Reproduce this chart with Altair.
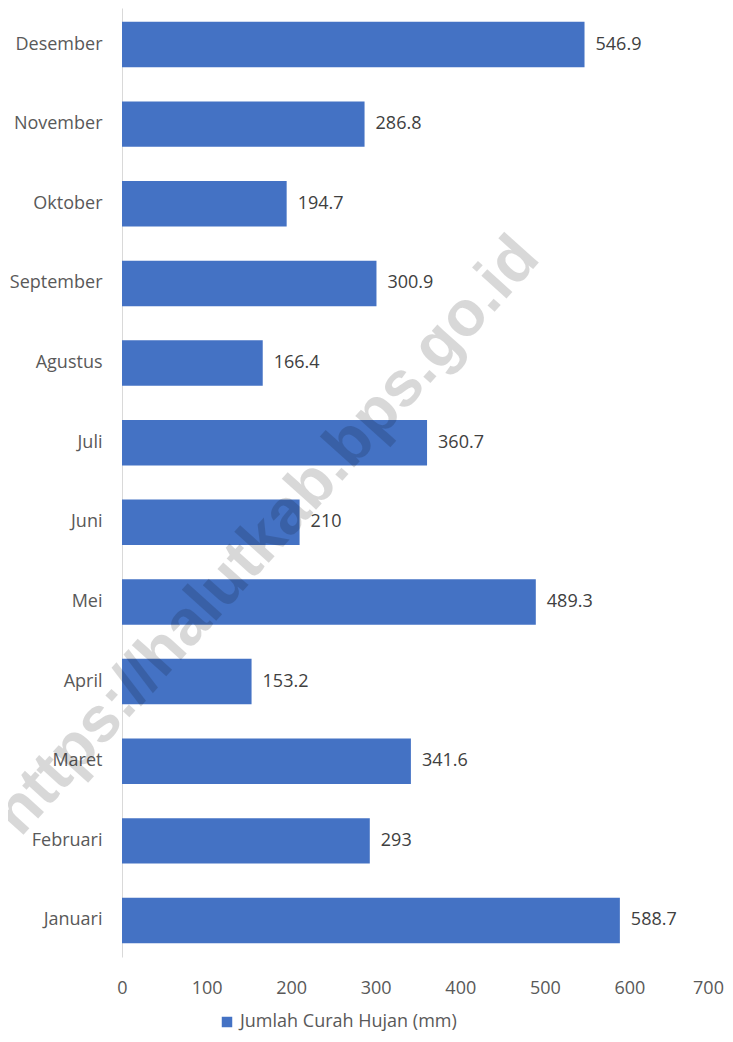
import altair as alt
import pandas as pd

months = ["Desember", "November", "Oktober", "September", "Agustus", "Juli",
          "Juni", "Mei", "April", "Maret", "Februari", "Januari"]
values = [546.9, 286.8, 194.7, 300.9, 166.4, 360.7, 210, 489.3, 153.2, 341.6, 293, 588.7]
labels = ["546.9", "286.8", "194.7", "300.9", "166.4", "360.7", "210", "489.3",
          "153.2", "341.6", "293", "588.7"]
series = "Jumlah Curah Hujan (mm)"
x_ticks = [0, 100, 200, 300, 400, 500, 600, 700]
watermark = "https://halutkab.bps.go.id"

df = pd.DataFrame({"bulan": months, "nilai": values, "label": labels, "seri": series})

FONT = "Open Sans"
BLUE = "#4472C4"

y_enc = alt.Y("bulan:N", sort=months, title=None,
              scale=alt.Scale(paddingInner=0.43, paddingOuter=0.174),
              axis=alt.Axis(domainColor="#D9D9D9", domainWidth=1, ticks=False,
                            grid=False, labelPadding=20, labelFontSize=18,
                            labelFont=FONT, labelColor="#595959"))
x_enc = alt.X("nilai:Q", title=None,
              scale=alt.Scale(domain=[0, 700], nice=False),
              axis=alt.Axis(values=x_ticks, domain=False, ticks=False, grid=False,
                            labelFlush=False, labelPadding=22, labelFontSize=18,
                            labelFont=FONT, labelColor="#595959",
                            labelOffset={"condition": {"test": "datum.value == 700",
                                                       "value": -6},
                                         "value": 0})),

bars = alt.Chart(df).mark_bar(color=BLUE).encode(
    y=y_enc, x=x_enc[0],
    color=alt.Color("seri:N", scale=alt.Scale(range=[BLUE]),
                    legend=alt.Legend(title=None, orient="none", legendX=96, legendY=1005,
                                      symbolType="square", symbolSize=110,
                                      symbolStrokeWidth=0, labelFontSize=18,
                                      labelFont=FONT, labelColor="#595959",
                                      labelOffset=4, labelLimit=0)),
)

text = alt.Chart(df).mark_text(align="left", baseline="middle", dx=11,
                               fontSize=18, font=FONT, color="#404040").encode(
    y=alt.Y("bulan:N", sort=months), x="nilai:Q", text="label:N")

wm_df = pd.DataFrame({"t": [watermark]})
wm = alt.Chart(wm_df).mark_text(
    font="Liberation Sans", fontWeight="bold", fontSize=64, angle=312,
    color="#000000", opacity=0.15, align="center", baseline="middle").encode(
    x=alt.value(145), y=alt.value(528), text="t:N")

chart = alt.layer(bars, text, wm).properties(
    width=592, height=949,
    background="white",
    autosize=alt.AutoSizeParams(type="none"),
    padding={"left": 114, "top": 0, "right": 11, "bottom": 76},
).configure_view(stroke=None, strokeWidth=0)

chart.save("out.html", embed_options={"renderer": "svg", "actions": False})
